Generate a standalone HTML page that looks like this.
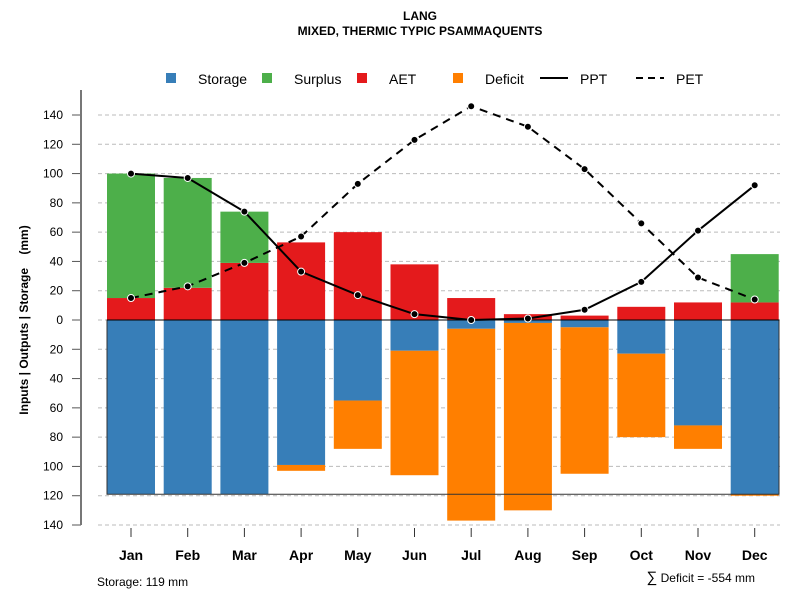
<!DOCTYPE html>
<html><head><meta charset="utf-8"><style>
body{margin:0;background:#fff;font-family:"Liberation Sans",sans-serif}
</style></head><body>
<svg id="c" width="800" height="600" xmlns="http://www.w3.org/2000/svg" font-family="Liberation Sans, sans-serif">
<text x="420" y="20" font-size="12" font-weight="bold" text-anchor="middle">LANG</text>
<text x="420" y="35" font-size="12" font-weight="bold" text-anchor="middle">MIXED, THERMIC TYPIC PSAMMAQUENTS</text>
<g id="grid"></g>
<g id="bars"></g>
<g id="lines"></g>
<g id="axes"></g>
<g font-size="14">
<rect x="166" y="73" width="10" height="10" fill="#377eb8"/>
<text x="198" y="84">Storage</text>
<rect x="262" y="73" width="10" height="10" fill="#4daf4a"/>
<text x="294" y="84">Surplus</text>
<rect x="357" y="73" width="10" height="10" fill="#e41a1c"/>
<text x="389" y="84">AET</text>
<rect x="453" y="73" width="10" height="10" fill="#ff7f00"/>
<text x="485" y="84">Deficit</text>
<line x1="540" y1="78" x2="568" y2="78" stroke="#000" stroke-width="2"/>
<text x="580" y="84">PPT</text>
<line x1="636" y1="78" x2="664" y2="78" stroke="#000" stroke-width="2" stroke-dasharray="7,5"/>
<text x="676" y="84">PET</text>
</g>
<text transform="translate(28,320) rotate(-90)" font-size="12" font-weight="bold" text-anchor="middle" style="white-space:pre">Inputs | Outputs | Storage    (mm)</text>
<text x="97" y="586" font-size="12">Storage: 119 mm</text>
<text x="755" y="582" font-size="12" text-anchor="end"><tspan font-size="15">∑</tspan> Deficit = -554 mm</text>
</svg>
<script>
const months=["Jan","Feb","Mar","Apr","May","Jun","Jul","Aug","Sep","Oct","Nov","Dec"];
const aet=[15,22,39,53,60,38,15,4,3,9,12,12];
const surplus=[85,75,35,0,0,0,0,0,0,0,0,33];
const storage=[119,119,119,99,55,21,6,2,5,23,72,119];
const deficit=[0,0,0,4,33,85,131,128,100,57,16,1];
const ppt=[100,97,74,33,17,4,0,1,7,26,61,92];
const pet=[15,23,39,57,93,123,146,132,103,66,29,14];
const yTicks=[-140,-120,-100,-80,-60,-40,-20,0,20,40,60,80,100,120,140];
const capacity=119;
const NS="http://www.w3.org/2000/svg";
const y=v=>320-v*1.4643;
const x=i=>131+i*56.7;
const bw=48;
function mk(p,t,a){const e=document.createElementNS(NS,t);for(const k in a)e.setAttribute(k,a[k]);p.appendChild(e);return e;}
const G=document.getElementById('grid'),B=document.getElementById('bars'),L=document.getElementById('lines'),A=document.getElementById('axes');
yTicks.forEach(v=>{
 const g=mk(G,'line',{x1:98,x2:780,y1:y(v),y2:y(v),stroke:'#bbb','stroke-dasharray':'4,3'});
 
 
 const t=mk(A,'line',{x1:72,x2:81,y1:y(v),y2:y(v),stroke:'#555'});
 
 
 const l=mk(A,'text',{x:63,y:y(v)+4,'font-size':12,'text-anchor':'end'});l.textContent=Math.abs(v);
 
 
});
const ax=mk(A,'line',{x1:81,x2:81,y1:90,y2:y(-140),stroke:'#777','stroke-width':2});


months.forEach((m,i)=>{
 const cx=x(i);
 const r1=mk(B,'rect',{x:cx-bw/2,y:y(aet[i]),width:bw,height:y(0)-y(aet[i]),fill:'#e41a1c'});
 
 
 if(surplus[i]>0){const r=mk(B,'rect',{x:cx-bw/2,y:y(aet[i]+surplus[i]),width:bw,height:y(aet[i])-y(aet[i]+surplus[i]),fill:'#4daf4a'});
 
 }
 const r2=mk(B,'rect',{x:cx-bw/2,y:y(0),width:bw,height:y(-storage[i])-y(0),fill:'#377eb8'});
 
 
 if(deficit[i]>0){const r=mk(B,'rect',{x:cx-bw/2,y:y(-storage[i]),width:bw,height:y(-storage[i]-deficit[i])-y(-storage[i]),fill:'#ff7f00'});
 
 }
 const tk=mk(A,'line',{x1:cx,x2:cx,y1:528,y2:537,stroke:'#333'});
 
 
 const tl=mk(A,'text',{x:cx,y:560,'font-size':14,'font-weight':'bold','text-anchor':'middle'});tl.textContent=m;
 
 
});
const box=mk(B,'rect',{x:107,y:y(0),width:672,height:y(-capacity)-y(0),fill:'none',stroke:'#333','stroke-width':1});


const z=mk(B,'line',{x1:107,x2:779,y1:y(0),y2:y(0),stroke:'#000'});


function series(arr,dash,name){
 const p=mk(L,'polyline',{points:arr.map((v,i)=>x(i)+','+y(v)).join(' '),fill:'none',stroke:'#000','stroke-width':2,'stroke-dasharray':dash});
 
 
 arr.forEach((v,i)=>{const c=mk(L,'circle',{cx:x(i),cy:y(v),r:3.5,fill:'#000',stroke:'#fff','stroke-width':1});
 
 });
}
series(ppt,'none','ppt');
series(pet,'8,6','pet');
</script>
</body></html>
